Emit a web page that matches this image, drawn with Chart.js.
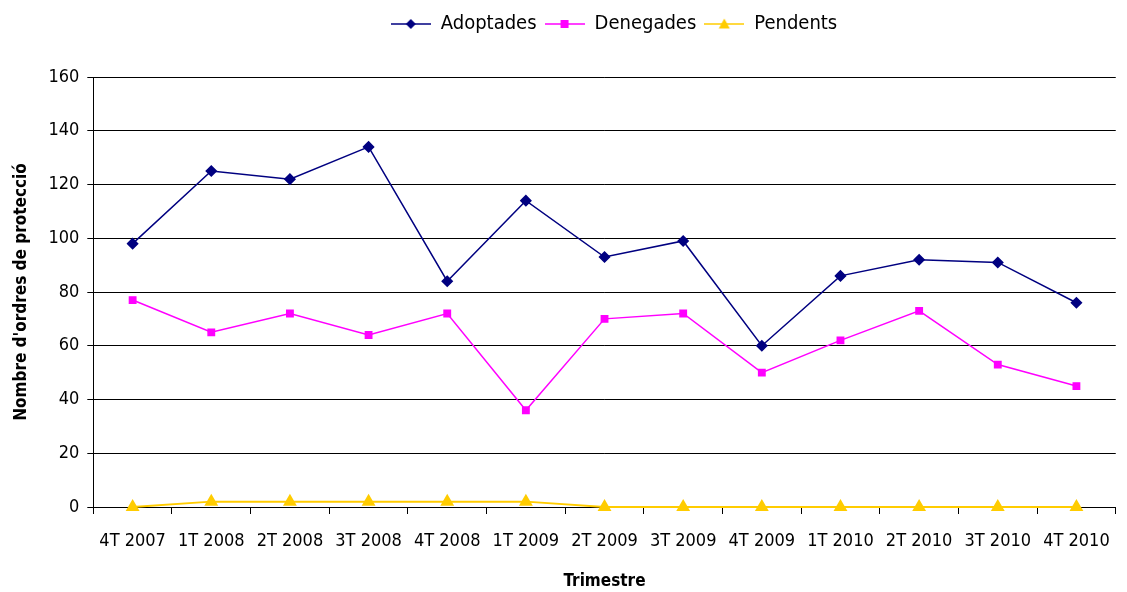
<!DOCTYPE html>
<html>
<head>
<meta charset="utf-8">
<script src="https://cdn.jsdelivr.net/npm/chart.js@4"></script>
<style>
  html, body { margin: 0; padding: 0; background: #fff; }
  #wrap { width: 1127px; height: 592px; }
</style>
</head>
<body>
<div id="wrap"><canvas id="myChart"></canvas></div>
<script>
const trimestres = ['4T 2007', '1T 2008', '2T 2008', '3T 2008', '4T 2008', '1T 2009', '2T 2009',
  '3T 2009', '4T 2009', '1T 2010', '2T 2010', '3T 2010', '4T 2010'];
const adoptades = [98, 125, 122, 134, 84, 114, 93, 99, 60, 86, 92, 91, 76];
const denegades = [77, 65, 72, 64, 72, 36, 70, 72, 50, 62, 73, 53, 45];
const pendents = [0, 2, 2, 2, 2, 2, 0, 0, 0, 0, 0, 0, 0];
const yTicks = [0, 20, 40, 60, 80, 100, 120, 140, 160];

const FONT = '"DejaVu Sans Condensed", "Liberation Sans", Arial, sans-serif';

// little line + marker picture for the legend
function legendIcon(color, shape) {
  const c = document.createElement('canvas');
  c.width = 40; c.height = 14;
  const g = c.getContext('2d');
  g.strokeStyle = color;
  g.lineWidth = 1.5;
  g.beginPath(); g.moveTo(0, 7); g.lineTo(40, 7); g.stroke();
  g.fillStyle = color;
  g.beginPath();
  if (shape === 'diamond') {
    g.moveTo(20, 2); g.lineTo(25, 7); g.lineTo(20, 12); g.lineTo(15, 7);
  } else if (shape === 'square') {
    g.rect(16, 3, 8, 8);
  } else {
    g.moveTo(20, 1.5); g.lineTo(25.5, 11.5); g.lineTo(14.5, 11.5);
  }
  g.closePath(); g.fill();
  return c;
}

// extra room under the legend, and legend centred over the plot
const legendGap = {
  id: 'legendGap',
  beforeInit(chart) {
    const fit = chart.legend.fit;
    chart.legend.fit = function () {
      fit.bind(chart.legend)();
      this.height += 33;
    };
  },
  afterLayout(chart) {
    chart.legend.left += 94;
  }
};

const ctx = document.getElementById('myChart');

new Chart(ctx, {
  type: 'line',
  plugins: [legendGap],
  data: {
    labels: trimestres,
    datasets: [{
      label: 'Adoptades',
      data: adoptades,
      borderColor: '#000080',
      backgroundColor: '#000080',
      borderWidth: 1.5,
      pointStyle: 'rectRot',
      pointRadius: 5,
      clip: false,
      icon: legendIcon('#000080', 'diamond')
    }, {
      label: 'Denegades',
      data: denegades,
      borderColor: '#FF00FF',
      backgroundColor: '#FF00FF',
      borderWidth: 1.5,
      pointStyle: 'rect',
      pointRadius: 4.5,
      clip: false,
      icon: legendIcon('#FF00FF', 'square')
    }, {
      label: 'Pendents',
      data: pendents,
      borderColor: '#FFCC00',
      backgroundColor: '#FFCC00',
      borderWidth: 2,
      pointStyle: 'triangle',
      pointRadius: 6,
      clip: false,
      icon: legendIcon('#FFCC00', 'triangle')
    }]
  },
  options: {
    responsive: true,
    maintainAspectRatio: false,
    animation: false,
    layout: { padding: { top: 6, right: 0, left: 7, bottom: 0 } },
    plugins: {
      tooltip: { enabled: false },
      legend: {
        position: 'top',
        labels: {
          usePointStyle: true,
          pointStyleWidth: 40,
          color: '#000',
          padding: 8,
          font: { family: FONT, size: 20 },
          generateLabels: (chart) => chart.data.datasets.map((ds, i) => ({
            text: ds.label,
            pointStyle: ds.icon,
            fillStyle: ds.borderColor,
            strokeStyle: ds.borderColor,
            lineWidth: 0,
            fontColor: '#000',
            datasetIndex: i
          }))
        }
      }
    },
    scales: {
      x: {
        offset: true,
        grid: {
          offset: true,
          drawOnChartArea: false,
          drawTicks: true,
          tickLength: 7,
          color: '#000'
        },
        border: { color: '#000', width: 1 },
        ticks: { color: '#000', font: { family: FONT, size: 18 }, padding: 17, maxRotation: 0, autoSkip: false },
        title: { display: true, text: 'Trimestre', color: '#000', font: { family: FONT, size: 17, weight: 'bold' }, padding: { top: 2, bottom: 0 } }
      },
      y: {
        min: 0,
        max: 160,
        afterBuildTicks: (axis) => { axis.ticks = yTicks.map(v => ({ value: v })); },
        grid: { color: '#000', lineWidth: 1, tickLength: 6 },
        border: { color: '#000', width: 1 },
        ticks: { color: '#000', font: { family: FONT, size: 18 }, padding: 8 },
        title: { display: true, text: "Nombre d'ordres de protecció", color: '#000', font: { family: FONT, size: 17, weight: 'bold' }, padding: { bottom: 9 } }
      }
    }
  }
});
</script>
</body>
</html>
